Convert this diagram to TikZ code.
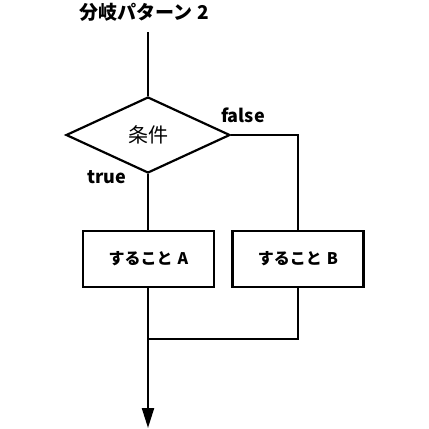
\documentclass[tikz,border=0pt]{standalone}
\usepackage{fontspec}
\setmainfont{Noto Sans CJK JP}
\usetikzlibrary{arrows.meta, shapes.geometric}

\begin{document}
\begin{tikzpicture}[x=1pt, y=-1pt, line width=2.2pt,
  proc/.style={draw, rectangle, minimum width=131pt, minimum height=56pt, inner sep=0pt, font=\fontsize{16}{16}\selectfont\bfseries},
  cond/.style={draw, diamond, minimum width=164pt, minimum height=76pt, inner sep=0pt, font=\fontsize{20}{20}\selectfont},
  lbl/.style={font=\fontsize{18}{18}\selectfont\bfseries, inner sep=0pt}]
\useasboundingbox (0,0) rectangle (429,429);
\node[lbl, font=\fontsize{19}{19}\selectfont\bfseries] (title) at (144,12) {分岐パターン\hspace{5pt}2};
\coordinate (start) at (148,32);
\node[cond] (c) at (148,135) {条件};
\node[proc] (a) at (148.5,259) {すること\hspace{5pt}A};
\node[proc] (b) at (298,259) {すること\hspace{5pt}B};
\node[lbl] (f) at (243,115) {false};
\node[lbl] (t) at (107,177) {true};
\coordinate (join) at (148,339);
\coordinate (end) at (148,428);
\draw (start)--(c.north);
\draw (c.south)--(c.south |- a.north);
\draw (c.east)-|(b.north);
\draw (b.south)|-(join);
\draw[-{Triangle[length=20pt, width=12pt]}] (a.south -| join)--(end);
\end{tikzpicture}
\end{document}
